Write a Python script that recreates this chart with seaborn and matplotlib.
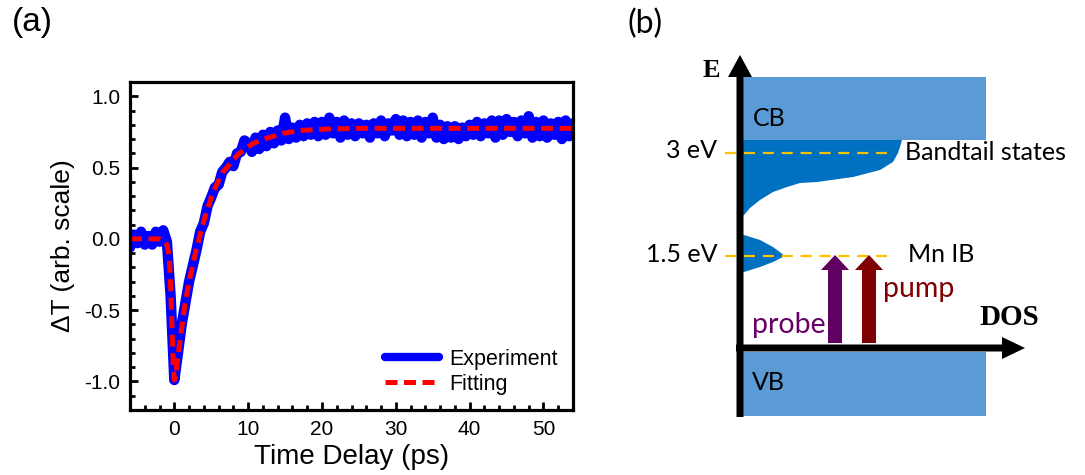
import numpy as np
import pandas as pd
import seaborn as sns
import matplotlib.pyplot as plt
from matplotlib.patches import Rectangle, Polygon, FancyArrow
from matplotlib.ticker import MultipleLocator

### (a) pump-probe trace
exp_t = [-6.0, -5.5, -5.0, -4.5, -4.0, -3.5, -3.0, -2.5, -2.0, -1.5, -1.0, -0.5,
         0.0, 0.5, 1.0, 1.5, 2.0, 2.5, 3.0, 3.5, 4.0, 4.5, 5.0, 5.5, 6.0, 6.5,
         7.0, 7.5, 8.0, 8.5, 9.0, 9.5, 10.0, 10.5, 11.0, 11.5, 12.0, 12.5, 13.0,
         13.5, 14.0, 14.5, 15.0, 15.5, 16.0, 16.5, 17.0, 17.5, 18.0, 18.5, 19.0,
         19.5, 20.0, 20.5, 21.0, 21.5, 22.0, 22.5, 23.0, 23.5, 24.0, 24.5, 25.0,
         25.5, 26.0, 26.5, 27.0, 27.5, 28.0, 28.5, 29.0, 29.5, 30.0, 30.5, 31.0,
         31.5, 32.0, 32.5, 33.0, 33.5, 34.0, 34.5, 35.0, 35.5, 36.0, 36.5, 37.0,
         37.5, 38.0, 38.5, 39.0, 39.5, 40.0, 40.5, 41.0, 41.5, 42.0, 42.5, 43.0,
         43.5, 44.0, 44.5, 45.0, 45.5, 46.0, 46.5, 47.0, 47.5, 48.0, 48.5, 49.0,
         49.5, 50.0, 50.5, 51.0, 51.5, 52.0, 52.5, 53.0, 53.5, 54.0]
exp_v = [-0.06, 0.03, -0.03, 0.05, -0.04, 0.02, -0.04, 0.05, -0.02, 0.06, -0.02, -0.40,
         -0.99, -0.80, -0.60, -0.45, -0.30, -0.19, -0.08, 0.05, 0.11, 0.23, 0.29, 0.36, 0.38, 0.47,
         0.50, 0.54, 0.51, 0.60, 0.61, 0.69, 0.67, 0.61, 0.71, 0.63, 0.73, 0.65, 0.75,
         0.67, 0.76, 0.69, 0.85, 0.70, 0.78, 0.71, 0.80, 0.72, 0.81, 0.73, 0.82,
         0.72, 0.82, 0.73, 0.85, 0.74, 0.82, 0.71, 0.83, 0.73, 0.81, 0.72, 0.81,
         0.74, 0.80, 0.71, 0.81, 0.74, 0.83, 0.72, 0.81, 0.76, 0.84, 0.73, 0.83,
         0.72, 0.82, 0.73, 0.83, 0.71, 0.82, 0.74, 0.85, 0.71, 0.80, 0.70, 0.79,
         0.71, 0.79, 0.70, 0.78, 0.72, 0.80, 0.73, 0.82, 0.72, 0.81, 0.74, 0.83,
         0.71, 0.83, 0.73, 0.84, 0.75, 0.82, 0.72, 0.83, 0.74, 0.86, 0.71, 0.82,
         0.72, 0.83, 0.71, 0.81, 0.73, 0.82, 0.70, 0.83, 0.72, 0.81]

fit_t = [-6.0, -3.0, -2.0, -1.5, -1.0, -0.8, -0.6, -0.45, -0.3, -0.15, 0.0, 0.15,
         0.4, 0.9, 1.5, 2.2, 2.9, 3.6, 4.3, 5.2, 6.0, 6.6, 7.3, 7.9, 8.6, 9.3,
         10.7, 12.5, 14.7, 17.0, 20.6, 25.0, 30.0, 40.0, 54.0]
fit_v = [0.0, 0.0, 0.0, -0.01, -0.04, -0.09, -0.20, -0.40, -0.65, -0.87, -0.99, -0.97,
         -0.86, -0.66, -0.44, -0.25, -0.09, 0.05, 0.18, 0.32, 0.41, 0.47, 0.51, 0.55, 0.59, 0.62,
         0.67, 0.705, 0.74, 0.76, 0.77, 0.775, 0.775, 0.775, 0.775]

### (b) band diagram, drawn in pixel units of the panel
bandtail_x = [740, 902, 900, 898, 893, 880, 853, 817, 800, 787, 773, 760, 750, 744, 740]
bandtail_y = [140, 140, 147, 153, 162, 170, 177, 182, 183, 187, 192, 200, 208, 215, 217]
mnib_x = [740, 744, 760, 773, 785, 773, 760, 744, 740]
mnib_y = [234, 235, 240, 247, 256, 262, 267, 272, 273]
level_labels = ["3 eV", "1.5 eV"]
level_y = [153, 256]

sns.set_style("ticks")
plt.rcParams['font.family'] = ['Liberation Sans', 'DejaVu Sans']
plt.rcParams['axes.unicode_minus'] = False
plt.rcParams['text.color'] = 'black'
plt.rcParams['axes.labelcolor'] = 'black'

fig = plt.figure(figsize=(10.85, 4.75), dpi=100)

ax = fig.add_axes([130 / 1085, 1 - 410 / 475, 443 / 1085, 328 / 475])
df_exp = pd.DataFrame({'t': exp_t, 'v': exp_v})
df_fit = pd.DataFrame({'t': fit_t, 'v': fit_v})
sns.lineplot(data=df_exp, x='t', y='v', ax=ax, color='#0000ff', lw=7.5,
             label='Experiment', solid_joinstyle='round', solid_capstyle='round')
sns.lineplot(data=df_fit, x='t', y='v', ax=ax, color='#ff0000', lw=3.6,
             linestyle=(0, (2.4, 1.3)), label='Fitting')

ax.set_xlim(-6, 54)
ax.set_ylim(-1.2, 1.1)
ax.xaxis.set_major_locator(MultipleLocator(10))
ax.xaxis.set_minor_locator(MultipleLocator(2))
ax.yaxis.set_major_locator(MultipleLocator(0.5))
ax.yaxis.set_minor_locator(MultipleLocator(0.1))
ax.tick_params(which='both', direction='in', top=False, right=False, width=2,
               color='black', labelcolor='black', labelsize=15, pad=7)
ax.tick_params(which='major', length=6)
ax.tick_params(which='minor', length=3.5)
for s in ax.spines.values():
    s.set_linewidth(2.3)
    s.set_color('black')
    s.set_visible(True)
ax.set_xlabel('Time Delay (ps)', fontsize=20, labelpad=4)
ax.set_ylabel('ΔT (arb. scale)', fontsize=19, labelpad=7)
leg = ax.legend(loc='lower right', frameon=False, fontsize=15.5, handlelength=2.5,
                handletextpad=0.5, labelspacing=0.2, borderaxespad=0.3)
leg.get_lines()[0].set_linewidth(6)
fig.text(32 / 1085, 1 - 22 / 475, '(a)', fontsize=24, ha='center', va='center')

### panel (b)
bx = fig.add_axes([600 / 1085, 0, 485 / 1085, 1])
bx.set_xlim(600, 1085)
bx.set_ylim(475, 0)
bx.axis('off')

light = '#5b9bd5'
dark = '#0070c0'
calibri = ['Lato', 'DejaVu Sans']
serif = ['Liberation Serif', 'DejaVu Serif']

bx.add_patch(Rectangle((740, 77), 246, 63, color=light, lw=0, zorder=1))
bx.add_patch(Rectangle((740, 352), 246, 64, color=light, lw=0, zorder=1))
bx.add_patch(Polygon(list(zip(bandtail_x, bandtail_y)), closed=True, color=dark, lw=0, zorder=2))
bx.add_patch(Polygon(list(zip(mnib_x, mnib_y)), closed=True, color=dark, lw=0, zorder=2))

for lab, yy in zip(level_labels, level_y):
    bx.plot([725, 887], [yy, yy], color='#ffc000', lw=1.6, linestyle=(0, (5, 3.5)), zorder=3)
    bx.text(717, yy - 2, lab, ha='right', va='center', fontsize=18, family=calibri)

# axes arrows
bx.add_patch(FancyArrow(740, 417, 0, -362, width=7, head_width=24, head_length=22,
                        length_includes_head=True, color='black', lw=0, zorder=4))
bx.add_patch(FancyArrow(736, 348, 289, 0, width=7, head_width=22, head_length=23,
                        length_includes_head=True, color='black', lw=0, zorder=4))

# probe / pump arrows
bx.add_patch(FancyArrow(835, 343, 0, -88, width=14, head_width=28, head_length=15,
                        length_includes_head=True, color='#600060', lw=0, zorder=4))
bx.add_patch(FancyArrow(869, 343, 0, -88, width=14, head_width=28, head_length=15,
                        length_includes_head=True, color='#7f0000', lw=0, zorder=4))

bx.text(753, 118, 'CB', ha='left', va='center', fontsize=18, family=calibri)
bx.text(752, 382, 'VB', ha='left', va='center', fontsize=18, family=calibri)
bx.text(905, 152, 'Bandtail states', ha='left', va='center', fontsize=18, family=calibri)
bx.text(908, 255, 'Mn IB', ha='left', va='center', fontsize=18, family=calibri)
bx.text(883, 297, 'pump', ha='left', va='baseline', fontsize=20.5, color='#800000', family=calibri)
bx.text(752, 333, 'probe', ha='left', va='baseline', fontsize=20.5, color='#660066', family=calibri)
bx.text(1039, 325, 'DOS', ha='right', va='baseline', fontsize=21, fontweight='bold', family=serif)
bx.text(711, 77, 'E', ha='center', va='baseline', fontsize=19, fontweight='bold', family=serif)
bx.text(645, 24, '(b)', ha='center', va='center', fontsize=23, family=calibri)

fig.savefig('out.png', dpi=100)
